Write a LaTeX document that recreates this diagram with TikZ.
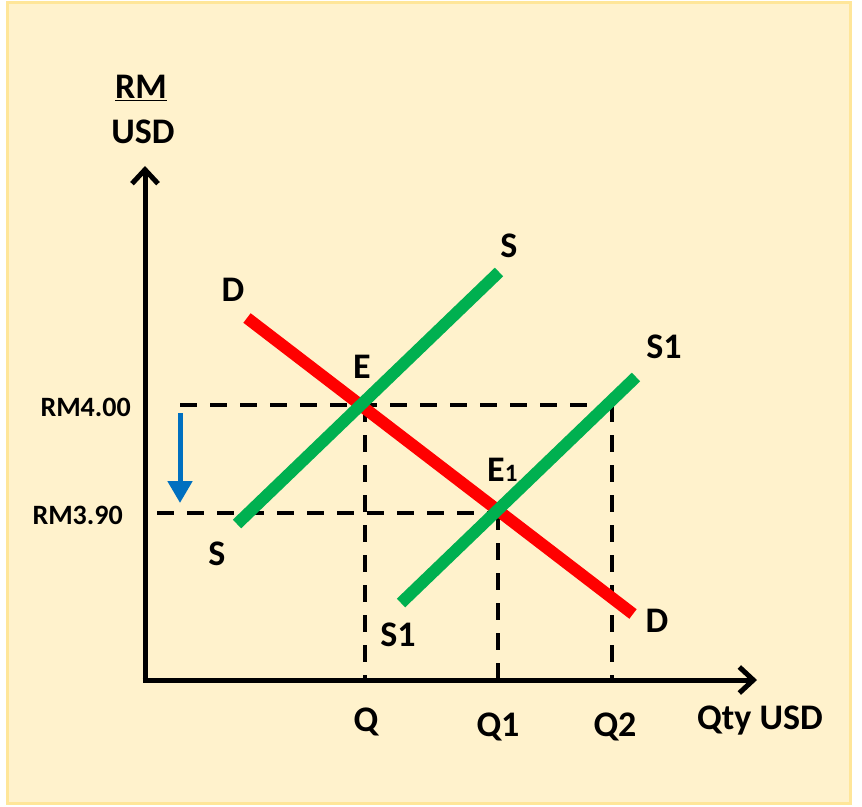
\documentclass[tikz,border=0pt]{standalone}
\usepackage{fontspec}
\setmainfont{Carlito}
\usetikzlibrary{arrows.meta}
\definecolor{bgfill}{HTML}{FFF2CC}
\definecolor{bgline}{HTML}{FFE699}
\definecolor{dred}{HTML}{FF0000}
\definecolor{sgreen}{HTML}{00B050}
\definecolor{arblue}{HTML}{0070C0}
\tikzset{
  lbl/.style={font=\fontsize{36}{38}\selectfont\bfseries, inner sep=0pt},
  pricelbl/.style={font=\fontsize{28}{30}\selectfont\bfseries, inner sep=0pt, anchor=east},
  axisline/.style={line width=5pt, -{Straight Barb[length=14pt, width=26pt, line width=5pt]}},
  demand/.style={line width=12pt, draw=dred},
  supply/.style={line width=12pt, draw=sgreen},
  guide/.style={line width=4pt, dash pattern=on 17pt off 13pt},
  shiftarrow/.style={line width=5pt, draw=arblue, -{Triangle[length=22pt, width=24pt]}}
}
\begin{document}
\begin{tikzpicture}[x=1pt, y=-1pt]
\useasboundingbox (0,0) rectangle (862,806);
\fill[white] (0,0) rectangle (862,806);
\draw[bgline, fill=bgfill, line width=3pt] (7,2) rectangle (850,803);
% axis points
\coordinate (O) at (145,680);
\coordinate (ytip) at (145,166);
\coordinate (xtip) at (757,680);
% curve endpoints
\coordinate (D1) at (247,318);
\coordinate (D2) at (633,614);
\coordinate (S1a) at (237,524);
\coordinate (S1b) at (499,272);
\coordinate (S2a) at (401,603);
\coordinate (S2b) at (636,377);
% guide points
\coordinate (h1a) at (180,405);
\coordinate (h1b) at (612,405);
\coordinate (h2a) at (157,513);
\coordinate (h2b) at (498,513);
\coordinate (vQt) at (365,405);
\coordinate (vQb) at (365,680);
\coordinate (vQ1t) at (498,513);
\coordinate (vQ1b) at (498,690);
\coordinate (vQ2t) at (612,405);
\coordinate (vQ2b) at (612,680);
\coordinate (ba) at (180,413);
\coordinate (bb) at (180,503);
% dashed guides
\draw[guide] (h1a) -- (h1b);
\draw[guide] (h2a) -- (h2b);
\draw[guide] (vQt) -- (vQb);
\draw[guide] (vQ1t) -- (vQ1b);
\draw[guide] (vQ2t) -- (vQ2b);
% curves
\draw[demand] (D1) -- (D2);
\draw[supply] (S1a) -- (S1b);
\draw[supply] (S2a) -- (S2b);
% axes
\draw[axisline] ([yshift=2.5pt]O) -- (ytip);
\draw[axisline] ([xshift=-2.5pt]O) -- (xtip);
% blue arrow
\draw[shiftarrow] (ba) -- (bb);
% labels
\node[lbl] (rm) at (141,88) {\underline{RM}};
\node[lbl] (usd) at (143,132) {USD};
\node[pricelbl] (p1) at (131,407) {RM4.00};
\node[pricelbl] (p2) at (123,515) {RM3.90};
\node[lbl] (Dtop) at (233,290) {D};
\node[lbl] (Stop) at (509,246) {S};
\node[lbl] (S1top) at (664,347) {S1};
\node[lbl] (E) at (362,367) {E};
\node[lbl, anchor=west] (E1) at (487,470) {E\fontsize{25}{27}\selectfont 1};
\node[lbl] (Sbot) at (217,554) {S};
\node[lbl] (S1bot) at (398,635) {S1};
\node[lbl] (Dbot) at (657,621) {D};
\node[lbl] (Q) at (366,722) {Q};
\node[lbl] (Q1) at (498,727) {Q1};
\node[lbl] (Q2) at (615,727) {Q2};
\node[lbl] (qty) at (760,721) {Qty USD};
\end{tikzpicture}
\end{document}
